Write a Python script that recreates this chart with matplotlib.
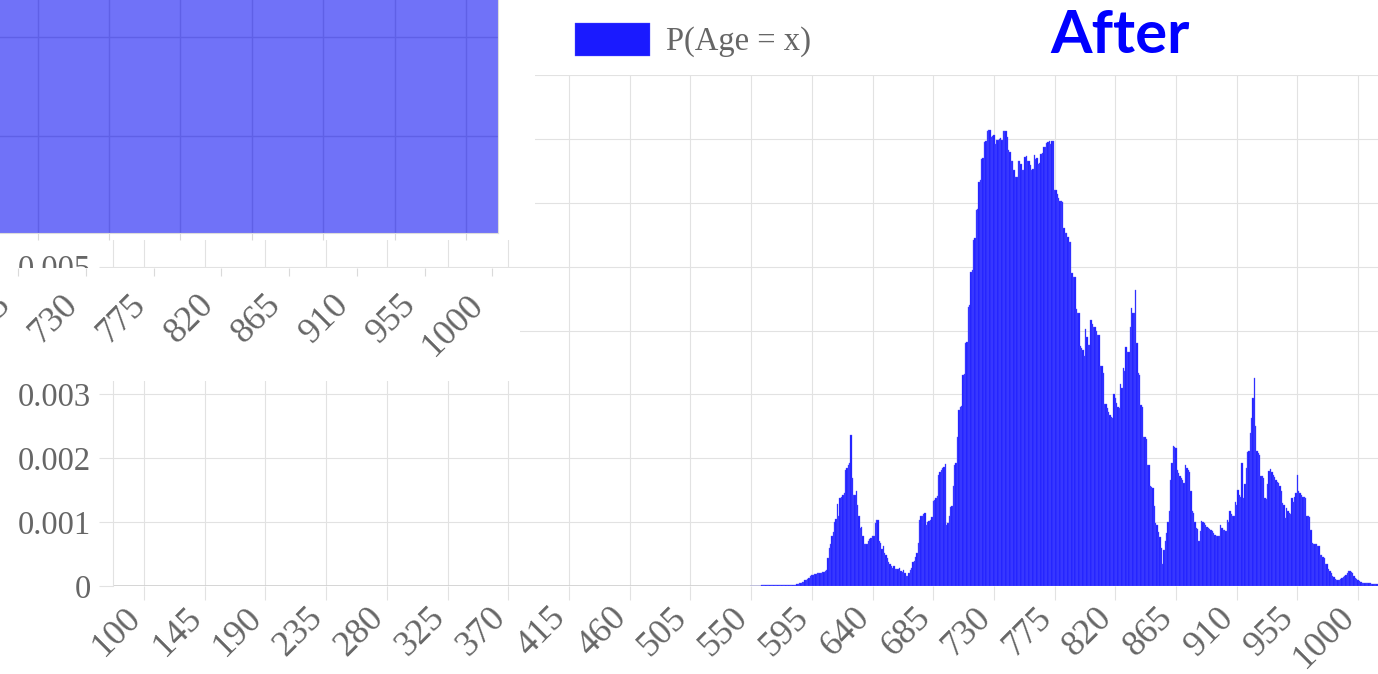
import matplotlib
matplotlib.use("Agg")
import matplotlib.pyplot as plt
import matplotlib.transforms as mtransforms
from matplotlib.patches import Rectangle
from matplotlib.ticker import FuncFormatter

#%% --- Data: P(Age = x), one bar per age, starting at age 550 ---

age_start = 550
p_age = [
    0, 0, 0, 0, 0, 0, 0, 0, 0.00001, 0.00001,                                      # 550
    0.00001, 0.00001, 0.00001, 0.00001, 0.00001, 0.00001, 0.00001, 0.00001, 0.00001, 0.00001,  # 560
    0.00001, 0.00001, 0.00002, 0.00002, 0.00001, 0.00002, 0.00002, 0.00002, 0.00002, 0.00002,  # 570
    0.00002, 0.00002, 0.00002, 0.00002, 0.00003, 0.00003, 0.00004, 0.00005, 0.00006, 0.00007,  # 580
    0.00009, 0.0001, 0.00011, 0.00013, 0.00015, 0.00017, 0.00018, 0.00019, 0.00019, 0.0002,    # 590
    0.0002, 0.00021, 0.00021, 0.00022, 0.00022, 0.00023, 0.00025, 0.00044, 0.0006, 0.00065,    # 600
    0.00078, 0.00085, 0.001, 0.00105, 0.00128, 0.0011, 0.00137, 0.0014, 0.00142, 0.00146,      # 610
    0.00182, 0.00185, 0.0019, 0.00192, 0.00237, 0.00169, 0.00143, 0.00143, 0.00148, 0.00127,   # 620
    0.00109, 0.00091, 0.00092, 0.00078, 0.00065, 0.00066, 0.00066, 0.0007, 0.00073, 0.00075,   # 630
    0.00078, 0.00078, 0.00099, 0.00103, 0.00103, 0.0007, 0.00067, 0.00058, 0.00062, 0.00052,   # 640
    0.00049, 0.00044, 0.00037, 0.00034, 0.00031, 0.00028, 0.00031, 0.00026, 0.00026, 0.00026,  # 650
    0.00028, 0.00023, 0.00022, 0.00025, 0.0002, 0.00015, 0.00016, 0.00021, 0.00025, 0.00028,   # 660
    0.00037, 0.00039, 0.00045, 0.00052, 0.00067, 0.00104, 0.00109, 0.0011, 0.00112, 0.00115,   # 670
    0.00096, 0.001, 0.00102, 0.00104, 0.00108, 0.00133, 0.00135, 0.00138, 0.00141, 0.00174,    # 680
    0.00179, 0.00182, 0.00185, 0.00187, 0.00191, 0.00096, 0.00099, 0.0011, 0.00124, 0.00126,   # 690
    0.00156, 0.0019, 0.00193, 0.00234, 0.00276, 0.0028, 0.00282, 0.0033, 0.00332, 0.0038,      # 700
    0.00382, 0.00437, 0.0044, 0.00492, 0.00495, 0.00541, 0.00545, 0.00588, 0.0059, 0.00633,    # 710
    0.00636, 0.00669, 0.0067, 0.00695, 0.00697, 0.00713, 0.00714, 0.00714, 0.00703, 0.00705,   # 720
    0.00706, 0.00692, 0.00698, 0.00699, 0.007, 0.00701, 0.00699, 0.00712, 0.00713, 0.00712,    # 730
    0.00703, 0.00682, 0.0068, 0.00666, 0.00665, 0.00651, 0.0064, 0.00641, 0.00665, 0.00666,    # 740
    0.00661, 0.00652, 0.00651, 0.00672, 0.00673, 0.00665, 0.00666, 0.00659, 0.00652, 0.00653,  # 750
    0.00674, 0.00669, 0.0067, 0.00661, 0.00662, 0.00677, 0.00678, 0.00687, 0.00688, 0.00694,   # 760
    0.00695, 0.00697, 0.00692, 0.00697, 0.00697, 0.0062, 0.0062, 0.00613, 0.00608, 0.00603,    # 770
    0.00603, 0.00601, 0.0056, 0.00552, 0.00552, 0.00547, 0.00539, 0.00538, 0.0049, 0.00484,    # 780
    0.00484, 0.00433, 0.00427, 0.00427, 0.00375, 0.00372, 0.0037, 0.0036, 0.00402, 0.0039,     # 790
    0.00377, 0.00377, 0.00417, 0.0041, 0.00405, 0.00405, 0.004, 0.00393, 0.00393, 0.00344,     # 800
    0.00344, 0.00333, 0.00285, 0.00285, 0.00278, 0.00272, 0.00268, 0.00265, 0.00263, 0.00301,  # 810
    0.00294, 0.00287, 0.0028, 0.00279, 0.00316, 0.0031, 0.00341, 0.00336, 0.00374, 0.00366,    # 820
    0.00366, 0.00405, 0.00435, 0.00428, 0.00428, 0.00464, 0.00381, 0.00333, 0.00331, 0.00284,  # 830
    0.00281, 0.00234, 0.00233, 0.0023, 0.0019, 0.0019, 0.00156, 0.00155, 0.00153, 0.00125,     # 840
    0.00099, 0.00096, 0.00085, 0.00077, 0.0006, 0.00034, 0.00057, 0.0007, 0.00083, 0.001,      # 850
    0.00118, 0.00166, 0.00192, 0.00219, 0.00218, 0.00216, 0.00181, 0.00177, 0.00172, 0.00169,  # 860
    0.00166, 0.00161, 0.0019, 0.00185, 0.00182, 0.00179, 0.00148, 0.00117, 0.00115, 0.001,     # 870
    0.00091, 0.00089, 0.0007, 0.00086, 0.00101, 0.001, 0.00099, 0.00096, 0.00093, 0.00091,     # 880
    0.0009, 0.00088, 0.00086, 0.00083, 0.0008, 0.00078, 0.00078, 0.00078, 0.00095, 0.00091,    # 890
    0.00088, 0.00087, 0.00086, 0.00104, 0.001, 0.00117, 0.00112, 0.0011, 0.00109, 0.00131,     # 900
    0.00127, 0.0015, 0.00143, 0.0014, 0.00193, 0.00138, 0.00159, 0.00185, 0.0021, 0.00211,     # 910
    0.00239, 0.00263, 0.00294, 0.00325, 0.0025, 0.00211, 0.00208, 0.00205, 0.00172, 0.00172,   # 920
    0.00169, 0.00138, 0.00136, 0.00159, 0.0018, 0.00183, 0.00178, 0.00174, 0.00171, 0.00166,   # 930
    0.00163, 0.00161, 0.00157, 0.00148, 0.0013, 0.00127, 0.00107, 0.00122, 0.00117, 0.00115,   # 940
    0.00113, 0.00138, 0.00131, 0.00139, 0.00146, 0.00174, 0.00148, 0.00146, 0.00143, 0.0014,   # 950
    0.00139, 0.00138, 0.0011, 0.00109, 0.00108, 0.00087, 0.00068, 0.00066, 0.00066, 0.00065,   # 960
    0.00063, 0.00062, 0.00049, 0.00048, 0.00046, 0.00044, 0.00035, 0.00034, 0.00026, 0.00024,  # 970
    0.00021, 0.00016, 0.00014, 0.00011, 0.0001, 0.00009, 0.0001, 0.00011, 0.00013, 0.00014,    # 980
    0.00016, 0.00018, 0.00021, 0.00023, 0.00023, 0.00022, 0.0002, 0.00015, 0.00013, 0.00011,   # 990
    0.0001, 0.00008, 0.00006, 0.00005, 0.00005, 0.00005, 0.00004, 0.00004, 0.00004, 0.00004,   # 1000
    0.00003, 0.00003, 0.00003, 0.00003, 0.00003,                                               # 1010
]
ages = list(range(age_start, age_start + len(p_age)))

x_ticks = list(range(100, 1001, 45))
y_ticks = [0, 0.001, 0.002, 0.003, 0.004, 0.005, 0.006, 0.007, 0.008]
legend_label = "P(Age = x)"
title_text = "After"

# ticks visible in the pasted "Before" crop
before_ticks = list(range(685, 1001, 45))

#%% --- Style ---

plt.rcParams["font.family"] = ["Liberation Serif", "DejaVu Serif"]
GRID = "#e2e2e2"
TXT = "#666666"
W, H = 1378, 674

fig = plt.figure(figsize=(W / 100, H / 100), dpi=100)

def px_box(x0, y0, x1, y1):
    # pixel box (top-left origin) -> figure fraction rect
    return [x0 / W, 1 - y1 / H, (x1 - x0) / W, (y1 - y0) / H]

#%% --- Main chart ---

ax = fig.add_axes(px_box(113, 75, 1378, 586))
bars = ax.bar(ages, p_age, width=1.0, color="#1a1aff", edgecolor="#5a5aff",
              linewidth=0.25, zorder=2, label=legend_label)

ax.set_xlim(77, 1014.7)
ax.set_ylim(0, 0.008)
ax.set_xticks(x_ticks)
ax.set_yticks(y_ticks)
ax.yaxis.set_major_formatter(FuncFormatter(lambda v, p: "0" if v == 0 else "{:.3f}".format(v)))
ax.grid(True, color=GRID, linewidth=0.8, zorder=0)
ax.set_axisbelow(True)
for side in ["top", "right", "bottom"]:
    ax.spines[side].set_visible(False)
ax.spines["left"].set_color(GRID)
ax.axhline(0, color="#cfcfcf", linewidth=1.2, zorder=1)

ax.tick_params(axis="both", length=10, width=0.8, color=GRID, labelcolor=TXT)
ax.tick_params(axis="y", pad=6, labelsize=23.5)
ax.tick_params(axis="x", pad=9, labelsize=26)

shift = mtransforms.ScaledTranslation(-8 / 100, 0, fig.dpi_scale_trans)
for lbl in ax.get_xticklabels():
    lbl.set_rotation(45)
    lbl.set_ha("right")
    lbl.set_va("center")
    lbl.set_rotation_mode("anchor")
    lbl.set_transform(lbl.get_transform() + shift)

# --- Legend and title ---
fig.legend(handles=[bars], labels=[legend_label],
           loc="center left", bbox_to_anchor=(575 / W, 1 - 40 / H),
           frameon=False, fontsize=23.5, labelcolor=TXT,
           handlelength=2.3, handleheight=1.2, handletextpad=0.5,
           borderpad=0, borderaxespad=0)

fig.text(1050 / W, 1 - 36 / H, title_text, family="Lato", fontweight="bold",
         fontsize=43, color="#0000ff", ha="left", va="center")

#%% --- Pasted crop of the "Before" chart (top left) ---

cover = Rectangle((0, 1 - 240 / H), 535 / W, 240 / H, transform=fig.transFigure,
                  facecolor="white", edgecolor="none", zorder=5)
fig.add_artist(cover)

ax_b = fig.add_axes(px_box(0, 0, 498, 233), zorder=6)
ax_b.set_facecolor("#7072f8")
ax_b.set_xlim(0, 498)
ax_b.set_ylim(233, 0)
ax_b.set_xticks([38, 109, 180, 252, 323, 395, 466])
ax_b.set_yticks([37, 136])
ax_b.grid(True, color="#5f60e6", linewidth=1.0)
ax_b.tick_params(axis="x", length=5, width=0.8, color="#dadada", labelbottom=False)
ax_b.tick_params(axis="y", length=0, labelleft=False)
ax_b.spines["top"].set_visible(False)
ax_b.spines["left"].set_visible(False)
ax_b.spines["right"].set_color("#dcdcdc")
ax_b.spines["bottom"].set_color("#dcdcdc")

# label strip of the Before chart
ax_s = fig.add_axes(px_box(0, 268, 520, 381), zorder=6)
ax_s.set_facecolor("white")
ax_s.set_xlim(672.8, 672.8 + 520 / 1.5044)
ax_s.set_ylim(0, 1)
for side in ["top", "right", "left"]:
    ax_s.spines[side].set_visible(False)
ax_s.spines["bottom"].set_position(("axes", 1.0))
ax_s.spines["bottom"].set_visible(False)
ax_s.set_yticks([])
ax_s.set_xticks(before_ticks)
ax_s.tick_params(axis="x", length=6, width=0.8, color="#dadada",
                 labelcolor=TXT, labelsize=26, pad=17)
shift_s = mtransforms.ScaledTranslation(-13 / 100, 0, fig.dpi_scale_trans)
for lbl in ax_s.get_xticklabels():
    lbl.set_rotation(45)
    lbl.set_ha("right")
    lbl.set_va("center")
    lbl.set_rotation_mode("anchor")
    lbl.set_transform(lbl.get_transform() + shift_s)

fig.savefig("out.png", dpi=100)
